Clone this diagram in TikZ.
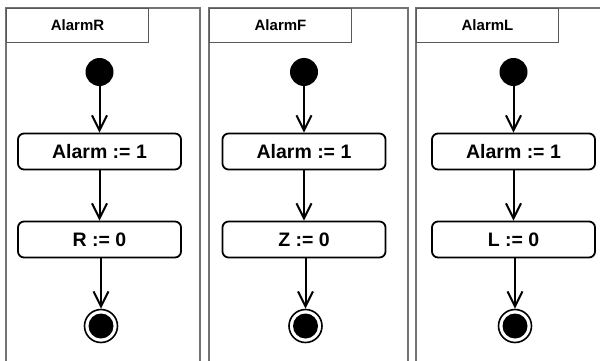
\documentclass[tikz,border=0pt]{standalone}
\usepackage{fontspec}
\setmainfont{Liberation Sans}
\usetikzlibrary{arrows.meta}
\begin{document}
\begin{tikzpicture}[x=1pt,y=1pt,
  frame/.style={draw=black!55,line width=1.3pt},
  tab/.style={draw=black!65,line width=1pt},
  tabtext/.style={font=\bfseries\fontsize{15}{17}\selectfont},
  initnode/.style={circle,fill=black,minimum size=28pt,inner sep=0pt},
  action/.style={draw,line width=1.8pt,rounded corners=6pt,minimum width=163pt,minimum height=36pt,inner sep=0pt,font=\bfseries\fontsize{19.5}{21}\selectfont},
  finalnode/.style={circle,draw,line width=1.6pt,minimum size=33pt,inner sep=0pt},
  flow/.style={line width=2pt,-{Straight Barb[length=15pt,width=15pt]}}]
\useasboundingbox (0,0) rectangle (600,360);
\clip (0,0) rectangle (600,360);
\foreach \L/\R/\cx/\name/\var/\k in {6/200/99.5/AlarmR/R/1, 209/408/304/AlarmF/Z/2, 416/612/513.5/AlarmL/L/3}{
  \draw[frame] (\L,-5) -- (\L,352) -- (\R,352) -- (\R,-5);
  \node[tab,tabtext,minimum width=142pt,minimum height=34pt,inner sep=0pt,anchor=north west] (t\k) at (\L,352) {\name};
  \node[initnode] (i\k) at (\cx,288) {};
  \node[action] (a\k) at (\cx,208.5) {Alarm := 1};
  \node[action] (b\k) at (\cx,120.5) {\var\ := 0};
  \node[finalnode] (f\k) at (\cx+1.5,34) {};
  \fill (f\k.center) circle (12.5pt);
  \draw[flow] (i\k) -- (a\k);
  \draw[flow] (a\k) -- (b\k);
  \draw[flow] (b\k.south -| f\k) -- (f\k);
}
\end{tikzpicture}
\end{document}
